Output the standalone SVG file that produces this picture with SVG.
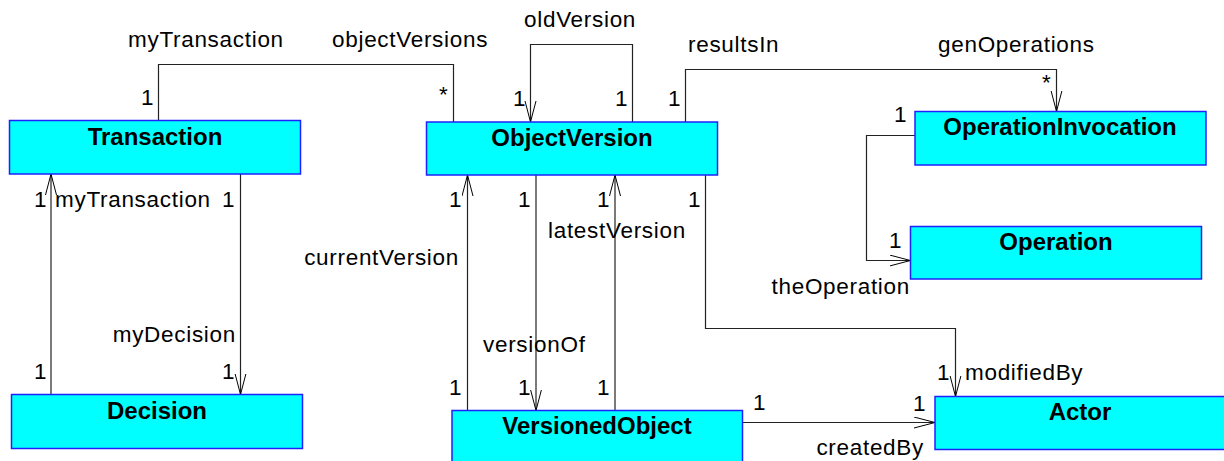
<svg xmlns="http://www.w3.org/2000/svg" width="1224" height="461" viewBox="0 0 1224 461">
<defs>
<marker id="open" markerWidth="24" markerHeight="14" refX="21" refY="6" orient="auto" markerUnits="userSpaceOnUse">
<path d="M0,0.5 L21,6 L0,11.5" fill="none" stroke="#000" stroke-width="1"/>
</marker>
<style>
.box{fill:#00ffff;stroke:#2020ff;stroke-width:1.5}
.name{font-family:"Liberation Sans",Arial,sans-serif;font-weight:bold;font-size:24px;fill:#000;text-anchor:middle}
.lbl{font-family:"Liberation Sans",Arial,sans-serif;font-size:22.5px;letter-spacing:0.7px;fill:#000}
.c{fill:none;stroke:#222;stroke-width:1.2}
.a{marker-end:url(#open)}
.e{text-anchor:end}
</style>
</defs>
<rect width="1224" height="461" fill="#fff"/>
<g id="connectors">
<polyline class="c" points="158.5,120.5 158.5,64.5 453.5,64.5 453.5,122"/>
<polyline class="c a" points="632.5,122 632.5,44.5 530.5,44.5 530.5,122"/>
<polyline class="c a" points="685.5,122 685.5,69.5 1056.5,69.5 1056.5,111.5"/>
<polyline class="c a" points="915,135.5 866.5,135.5 866.5,260.5 910.5,260.5"/>
<polyline class="c a" points="51,394.5 51,174"/>
<polyline class="c a" points="240.5,174 240.5,394.5"/>
<polyline class="c a" points="467.5,410.5 467.5,175"/>
<polyline class="c a" points="536,175 536,410.5"/>
<polyline class="c a" points="615,410.5 615,175"/>
<polyline class="c a" points="705.5,175 705.5,328.5 955.5,328.5 955.5,396.5"/>
<polyline class="c a" points="742.5,422.5 935,422.5"/>
<text class="lbl" x="128" y="47">myTransaction</text>
<text class="lbl" x="332" y="47">objectVersions</text>
<text class="lbl" x="141" y="105">1</text>
<text class="lbl" x="439" y="102">*</text>
<text class="lbl" x="524" y="27">oldVersion</text>
<text class="lbl" x="513" y="106">1</text>
<text class="lbl" x="615" y="106">1</text>
<text class="lbl" x="688" y="52">resultsIn</text>
<text class="lbl" x="938" y="52">genOperations</text>
<text class="lbl" x="668" y="106">1</text>
<text class="lbl" x="1042" y="90">*</text>
<text class="lbl" x="894" y="122">1</text>
<text class="lbl" x="889" y="248">1</text>
<text class="lbl e" x="910" y="294">theOperation</text>
<text class="lbl" x="34" y="207">1</text>
<text class="lbl" x="55" y="207">myTransaction</text>
<text class="lbl" x="222" y="207">1</text>
<text class="lbl e" x="236" y="342">myDecision</text>
<text class="lbl" x="34" y="379">1</text>
<text class="lbl" x="222" y="379">1</text>
<text class="lbl" x="449" y="207">1</text>
<text class="lbl" x="518" y="207">1</text>
<text class="lbl" x="597" y="207">1</text>
<text class="lbl" x="688" y="207">1</text>
<text class="lbl e" x="459" y="265">currentVersion</text>
<text class="lbl" x="548" y="238">latestVersion</text>
<text class="lbl" x="483" y="352">versionOf</text>
<text class="lbl" x="449" y="395">1</text>
<text class="lbl" x="518" y="395">1</text>
<text class="lbl" x="597" y="395">1</text>
<text class="lbl" x="937" y="380">1</text>
<text class="lbl" x="965" y="380">modifiedBy</text>
<text class="lbl" x="753" y="410">1</text>
<text class="lbl" x="913" y="411">1</text>
<text class="lbl e" x="924" y="455">createdBy</text>
</g>
<g id="Transaction">
<rect class="box" x="9.5" y="120.5" width="291" height="53.5"/>
<text class="name" x="155" y="145">Transaction</text>
</g>
<g id="ObjectVersion">
<rect class="box" x="426.5" y="122" width="291" height="53"/>
<text class="name" x="572" y="146">ObjectVersion</text>
</g>
<g id="OperationInvocation">
<rect class="box" x="915" y="111.5" width="291" height="53.5"/>
<text class="name" x="1060" y="135">OperationInvocation</text>
</g>
<g id="Operation">
<rect class="box" x="910.5" y="226.5" width="291" height="52.5"/>
<text class="name" x="1056" y="250">Operation</text>
</g>
<g id="Decision">
<rect class="box" x="11.5" y="394.5" width="291" height="54"/>
<text class="name" x="157" y="419">Decision</text>
</g>
<g id="VersionedObject">
<rect class="box" x="452" y="410.5" width="290.5" height="54"/>
<text class="name" x="597" y="434">VersionedObject</text>
</g>
<g id="Actor">
<rect class="box" x="935" y="396.5" width="291" height="53"/>
<text class="name" x="1080" y="420">Actor</text>
</g>
</svg>
